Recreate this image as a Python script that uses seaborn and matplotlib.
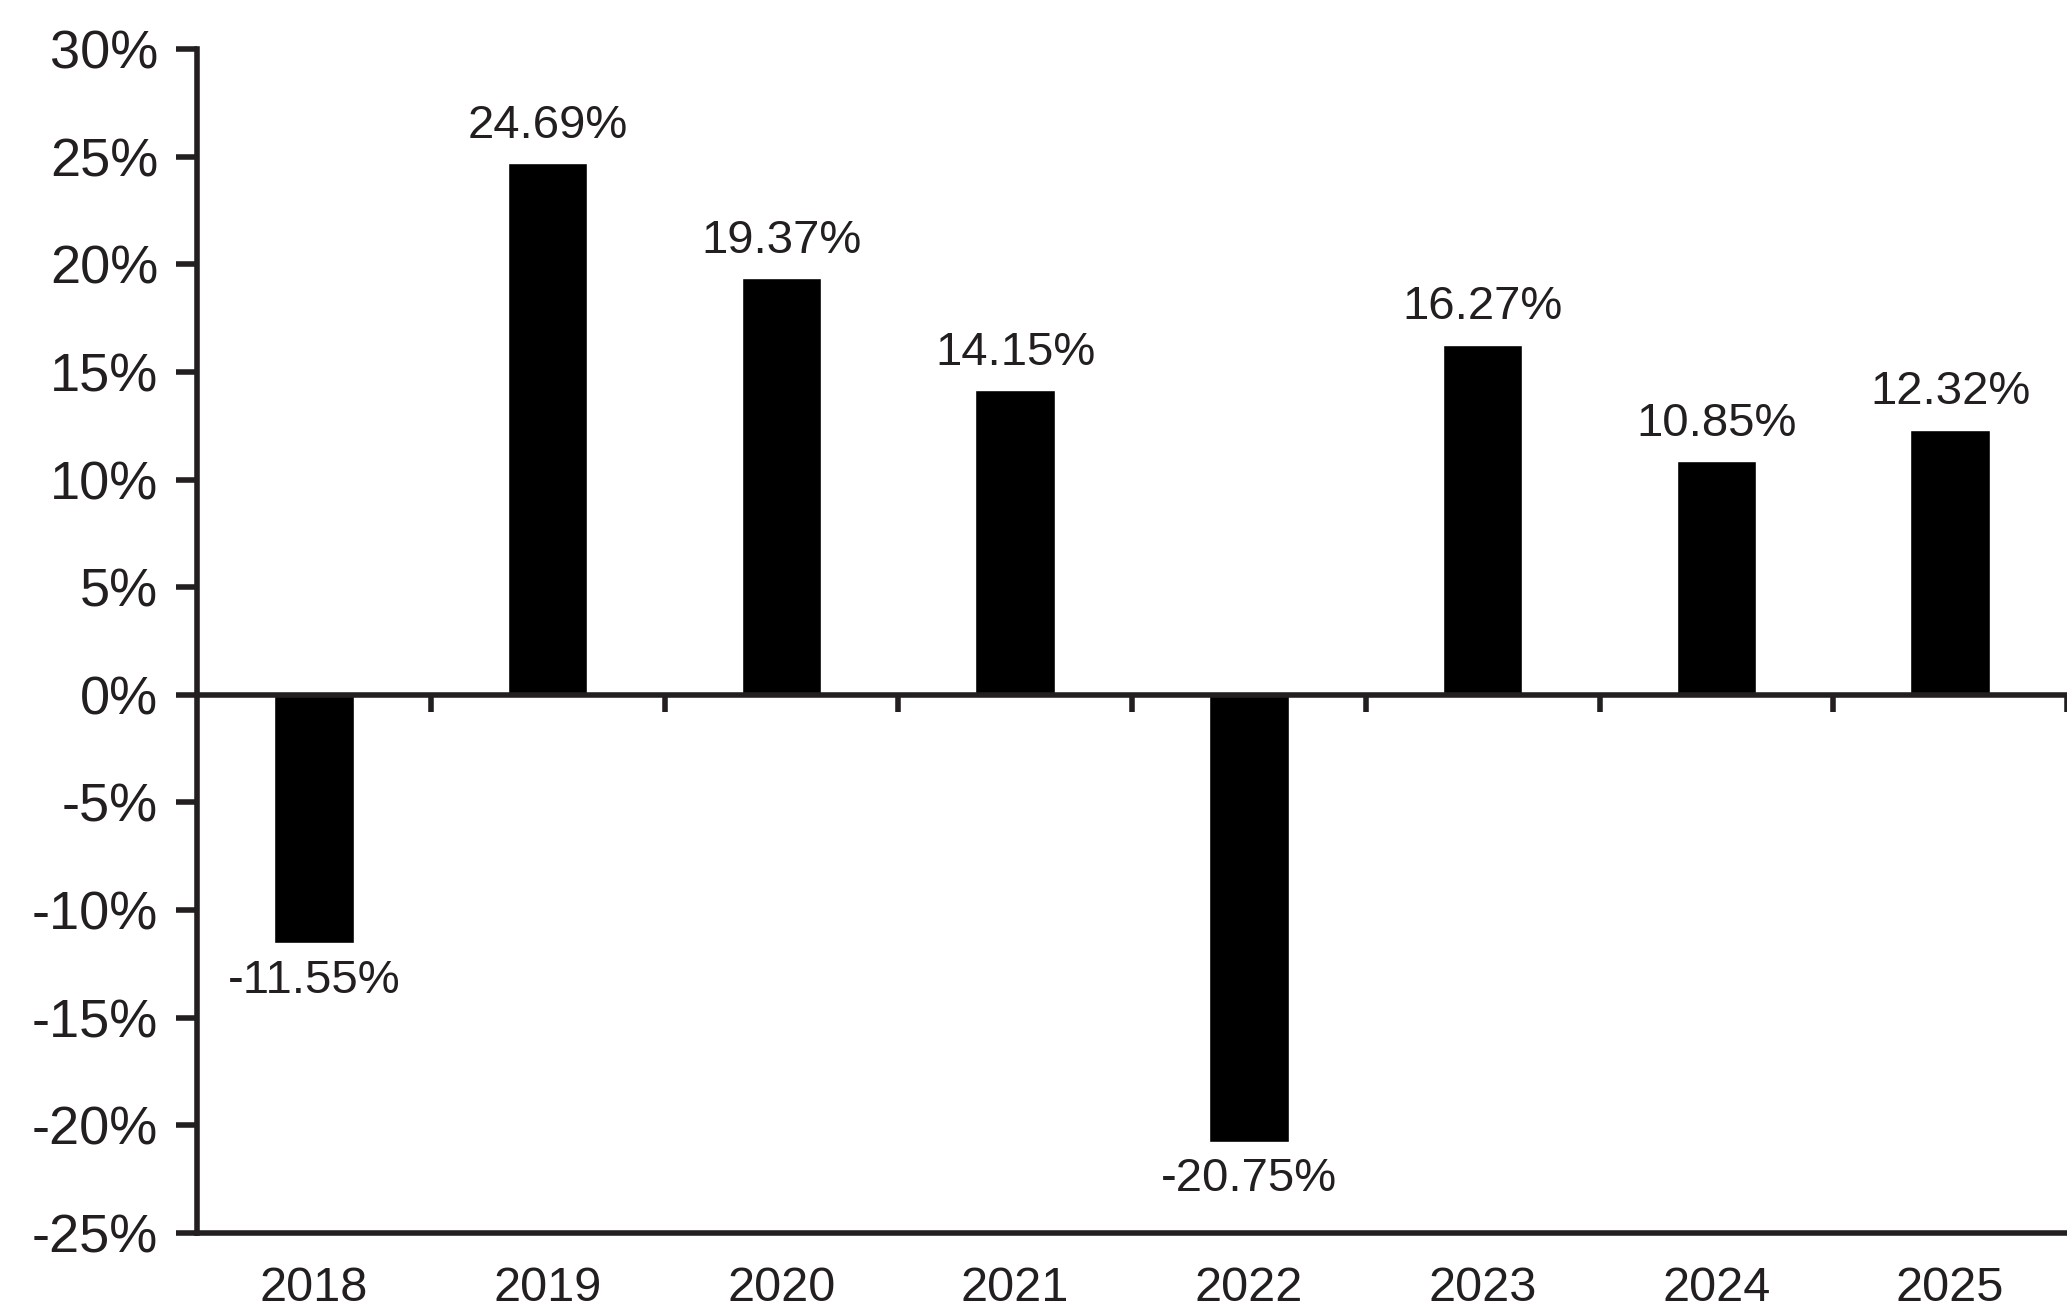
import matplotlib
matplotlib.use("Agg")
import matplotlib.pyplot as plt
import seaborn as sns
import pandas as pd
from matplotlib.ticker import FuncFormatter, FixedLocator

years = ["2018", "2019", "2020", "2021", "2022", "2023", "2024", "2025"]
returns = [-11.55, 24.69, 19.37, 14.15, -20.75, 16.27, 10.85, 12.32]
y_ticks = [-25, -20, -15, -10, -5, 0, 5, 10, 15, 20, 25, 30]

df = pd.DataFrame({"year": years, "ret": returns})

sns.set_style("white")
plt.rcParams["font.family"] = ["Liberation Sans", "DejaVu Sans"]
ink = "#231f20"

fig = plt.figure(figsize=(20.67, 13.08), dpi=100)
ax = fig.add_axes([197 / 2067, 1 - 1233 / 1308, 1 - 197 / 2067, (1233 - 49) / 1308])

sns.barplot(data=df, x="year", y="ret", color="black", width=0.34,
            saturation=1, ax=ax, zorder=1)

ax.set_xlim(-0.5, 7.5)
ax.set_ylim(-25, 30)
ax.set_yticks(y_ticks)
ax.yaxis.set_major_formatter(FuncFormatter(lambda v, p: f"{v:.0f}%"))
ax.set_xlabel("")
ax.set_ylabel("")

# spines: left and bottom frame, top spine moved to the zero line
for side in ["left", "bottom", "top"]:
    ax.spines[side].set_visible(True)
    ax.spines[side].set_color(ink)
    ax.spines[side].set_linewidth(4)
ax.spines["right"].set_visible(False)
ax.spines["top"].set_position(("data", 0))

# category boundary ticks hanging below the zero line
ax.xaxis.set_minor_locator(FixedLocator([i + 0.5 for i in range(len(years))]))
ax.tick_params(axis="x", which="minor", top=True, bottom=False, direction="in",
               length=12, width=4, color=ink)
ax.tick_params(axis="x", which="major", top=False, bottom=True, length=0,
               pad=24, labelsize=35, labelcolor=ink)
ax.tick_params(axis="y", which="major", left=True, direction="out", length=15,
               width=4, color=ink, pad=13, labelsize=39, labelcolor=ink)

for c in ax.containers:
    ax.bar_label(c, labels=[f"{v:.2f}%" for v in returns], padding=11,
                 fontsize=34, color=ink)

fig.savefig("out.png", dpi=100)
